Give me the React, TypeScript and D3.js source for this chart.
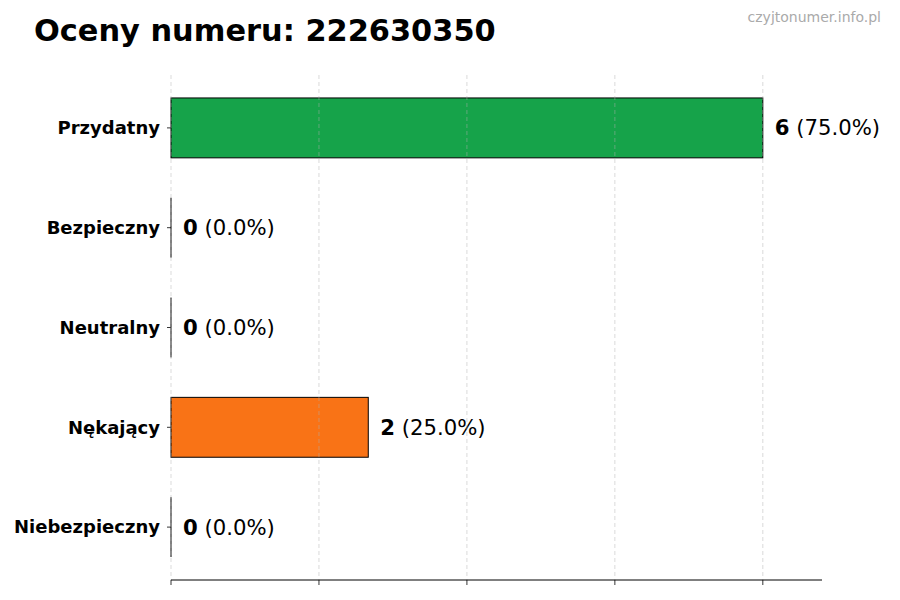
import React from "react";
import * as d3 from "d3";

const categories = ["Przydatny", "Bezpieczny", "Neutralny", "Nękający", "Niebezpieczny"];
const counts = [6, 0, 0, 2, 0];
const colors = ["#16a34a", "#16a34a", "#9ca3af", "#f97316", "#dc2626"];
const xTicks = [0, 1.5, 3, 4.5, 6];
const title = "Oceny numeru: 222630350";
const watermark = "czyjtonumer.info.pl";

export default function App() {
  const W = 900, H = 600;
  const left = 171, right = 822, top = 75, bottom = 580;
  const total = d3.sum(counts);
  const x = d3.scaleLinear().domain([0, 6.6]).range([left, right]);
  const y = d3.scaleLinear().domain([-0.53, 4.53]).range([top, bottom]);
  const barH = 0.6;
  const font = "'DejaVu Sans', sans-serif";
  return (
    <svg width={W} height={H} style={{ position: "absolute", left: 0, top: 0, background: "#fff" }} fontFamily={font}>
      <rect width={W} height={H} fill="#fff" />
      <text x={34} y={41} fontSize={30.4} fontWeight="bold" fill="#000">{title}</text>
      <text x={881} y={22} fontSize={14} fill="#aaa" textAnchor="end">{watermark}</text>
      {categories.map((c, i) => {
        const v = counts[i];
        const y0 = y(i - barH / 2), y1 = y(i + barH / 2);
        return (
          <g key={c}>
            {v > 0 ? (
              <rect x={x(0)} y={y0} width={x(v) - x(0)} height={y1 - y0} fill={colors[i]} stroke="#000" strokeWidth={1} />
            ) : (
              <line x1={x(0)} x2={x(0)} y1={y0} y2={y1} stroke="#000" strokeWidth={1} />
            )}
            <line x1={left - 4} x2={left} y1={y(i)} y2={y(i)} stroke="#000" strokeWidth={0.8} />
            <text x={160} y={y(i)} dy="0.35em" textAnchor="end" fontSize={18} fontWeight="bold">{c}</text>
            <text x={x(v) + 12} y={y(i)} dy="0.35em" fontSize={21.2}>
              <tspan fontWeight="bold">{v}</tspan>
              <tspan>{` (${((v / total) * 100).toFixed(1)}%)`}</tspan>
            </text>
          </g>
        );
      })}
      {xTicks.map((t) => (
        <g key={t}>
          <line x1={x(t)} x2={x(t)} y1={top} y2={bottom} stroke="#b0b0b0" strokeOpacity={0.6} strokeDasharray="4,3" strokeWidth={0.8} />
          <line x1={x(t)} x2={x(t)} y1={bottom} y2={bottom + 5} stroke="#000" strokeWidth={0.8} />
        </g>
      ))}
      <line x1={left} x2={right} y1={bottom} y2={bottom} stroke="#000" strokeWidth={1} />
    </svg>
  );
}
